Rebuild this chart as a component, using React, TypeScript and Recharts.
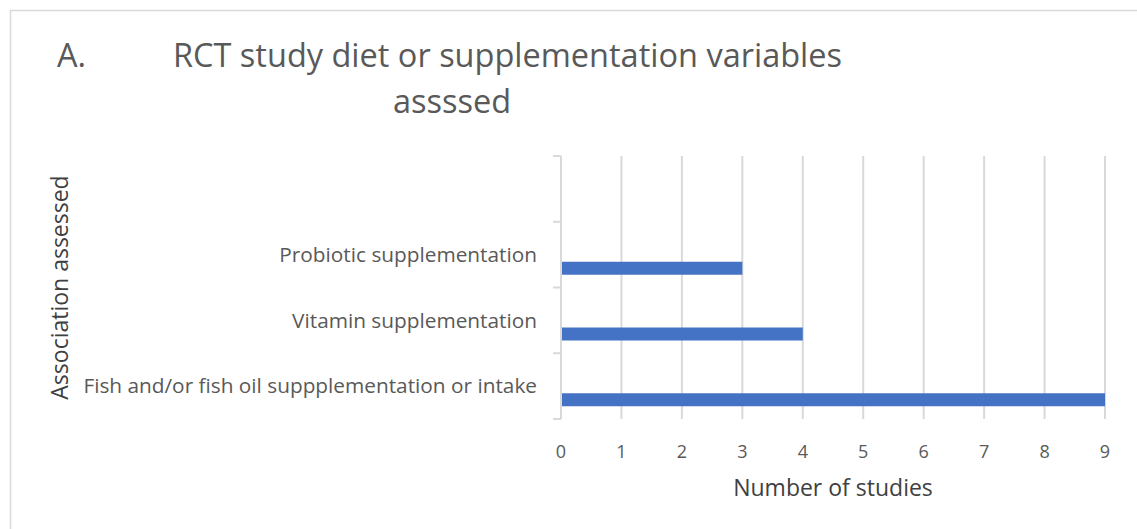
import { BarChart, Bar, XAxis, YAxis, CartesianGrid } from "recharts"

const categories = [
  "",
  "Probiotic supplementation",
  "Vitamin supplementation",
  "Fish and/or fish oil suppplementation or intake",
]
const studyCounts = [null, 3, 4, 9]
const xTicks = [0, 1, 2, 3, 4, 5, 6, 7, 8, 9]

const data = categories.map((name, i) => ({ name, spacer: null, studies: studyCounts[i] }))

const FONT = "'Open Sans', sans-serif"
const TEXT = "#595959"
const GRID = "#d9d9d9"
const BLUE = "#4472c4"

function CategoryTick(props: any) {
  const { x, y, payload, index } = props
  const half = payload?.offset ?? 0
  const axisX = x + 24
  return (
    <g>
      <line x1={axisX - 8} x2={axisX} y1={y - half} y2={y - half} stroke={GRID} strokeWidth={2} />
      {index === categories.length - 1 && (
        <line x1={axisX - 8} x2={axisX} y1={y + half} y2={y + half} stroke={GRID} strokeWidth={2} />
      )}
      <text x={x} y={y} dy="0.35em" textAnchor="end" fill={TEXT} fontSize={20.8} fontFamily={FONT}>
        {payload.value}
      </text>
    </g>
  )
}

export default function App() {
  return (
    <div style={{ position: "absolute", left: 0, top: 0, width: 1137, height: 529, background: "#fff" }}>
      <BarChart
        width={1137}
        height={529}
        data={data}
        layout="vertical"
        margin={{ top: 156, right: 32, bottom: 30, left: 40 }}
        barSize={13}
        barGap={15}
      >
        <CartesianGrid horizontal={false} stroke={GRID} strokeWidth={2} />
        <XAxis
          type="number"
          domain={[0, 9]}
          ticks={xTicks}
          axisLine={false}
          tickLine={false}
          tickSize={0}
          tickMargin={26}
          height={80}
          tick={{ fill: TEXT, fontSize: 18, fontFamily: FONT }}
          label={(p: any) => (
            <text
              x={p.viewBox.x + p.viewBox.width / 2}
              y={p.viewBox.y + 77}
              textAnchor="middle"
              fill="#404040"
              fontSize={23}
              fontFamily={FONT}
            >
              Number of studies
            </text>
          )}
        />
        <YAxis
          type="category"
          dataKey="name"
          width={521}
          interval={0}
          axisLine={{ stroke: GRID, strokeWidth: 2 }}
          tickLine={false}
          tickSize={0}
          tickMargin={24}
          tick={<CategoryTick />}
          label={(p: any) => {
            const cx = p.viewBox.x + 20
            const cy = p.viewBox.y + p.viewBox.height / 2
            return (
              <text
                x={cx}
                y={cy}
                dy="0.35em"
                transform={`rotate(-90, ${cx}, ${cy})`}
                textAnchor="middle"
                fill="#404040"
                fontSize={23}
                fontFamily={FONT}
              >
                Association assessed
              </text>
            )
          }}
        />
        <Bar dataKey="spacer" fill="none" isAnimationActive={false} />
        <Bar dataKey="studies" fill={BLUE} isAnimationActive={false} />
      </BarChart>
      <svg
        width={1137}
        height={529}
        style={{ position: "absolute", left: 0, top: 0, pointerEvents: "none" }}
      >
        <rect x={10.5} y={10.5} width={1140} height={530} fill="none" stroke={GRID} strokeWidth={1.5} />
        <text x={57} y={67} fill={TEXT} fontSize={32.5} fontFamily={FONT}>
          A.
        </text>
        <text x={173} y={67} fill={TEXT} fontSize={32.5} fontFamily={FONT}>
          RCT study diet or supplementation variables
        </text>
        <text x={393} y={113} fill={TEXT} fontSize={32.5} fontFamily={FONT}>
          assssed
        </text>
      </svg>
    </div>
  )
}
